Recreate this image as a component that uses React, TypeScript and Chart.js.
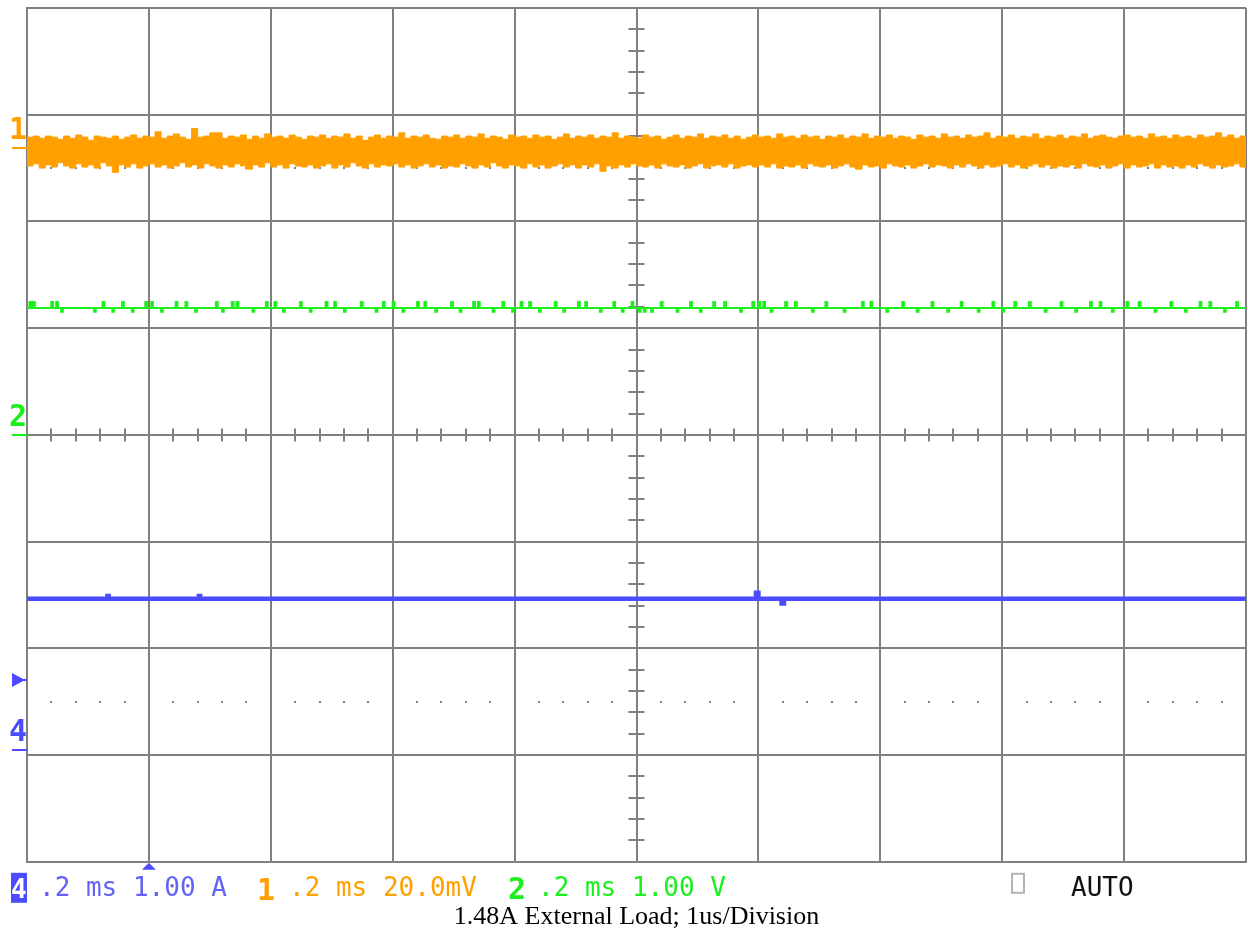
import React, { useEffect, useRef } from "react";
import { Chart, registerables } from "chart.js";

Chart.register(...registerables);

// ---- Axis layout (oscilloscope divisions) ----
const X_MIN = 0;
const X_MAX = 10;
const Y_MIN = -4;
const Y_MAX = 4;

// ---- Channel 1 (orange, 20.0 mV/div): noise band envelope, in divisions ----
const ch1Upper = [
  2.79, 2.80, 2.78, 2.80, 2.79, 2.77, 2.80, 2.78, 2.81, 2.79,
  2.76, 2.80, 2.79, 2.78, 2.80, 2.77, 2.79, 2.81, 2.78, 2.80,
  2.79, 2.84, 2.78, 2.80, 2.82, 2.79, 2.77, 2.87, 2.79, 2.80,
  2.83, 2.83, 2.78, 2.80, 2.79, 2.81, 2.77, 2.80, 2.78, 2.82,
  2.79, 2.80, 2.78, 2.81, 2.79, 2.77, 2.80, 2.79, 2.81, 2.78,
  2.80, 2.79, 2.82, 2.78, 2.80, 2.76, 2.79, 2.81, 2.78, 2.80,
  2.79, 2.83, 2.78, 2.80, 2.79, 2.81, 2.78, 2.77, 2.80, 2.79,
  2.81, 2.78, 2.80, 2.79, 2.82, 2.78, 2.80, 2.79, 2.77, 2.81,
  2.79, 2.80, 2.78, 2.81, 2.79, 2.80, 2.77, 2.79, 2.82, 2.78,
  2.80, 2.79, 2.81, 2.78, 2.80, 2.79, 2.83, 2.78, 2.80, 2.79,
  2.78, 2.81, 2.79, 2.80, 2.77, 2.79, 2.81, 2.78, 2.80, 2.79,
  2.82, 2.78, 2.80, 2.79, 2.81, 2.78, 2.80, 2.77, 2.79, 2.81,
  2.79, 2.80, 2.78, 2.82, 2.79, 2.80, 2.78, 2.81, 2.79, 2.80,
  2.77, 2.80, 2.79, 2.81, 2.78, 2.80, 2.79, 2.82, 2.78, 2.80,
  2.79, 2.81, 2.78, 2.80, 2.79, 2.77, 2.81, 2.79, 2.80, 2.78,
  2.82, 2.79, 2.80, 2.78, 2.81, 2.79, 2.80, 2.83, 2.78, 2.80,
  2.79, 2.81, 2.78, 2.80, 2.79, 2.82, 2.78, 2.80, 2.79, 2.81,
  2.78, 2.80, 2.79, 2.82, 2.78, 2.80, 2.81, 2.79, 2.78, 2.80,
  2.81, 2.79, 2.80, 2.78, 2.82, 2.79, 2.80, 2.78, 2.81, 2.79,
  2.80, 2.78, 2.81, 2.79, 2.80, 2.83, 2.79, 2.81, 2.78, 2.80,
  2.79,
];
const ch1Lower = [
  2.52, 2.54, 2.50, 2.53, 2.51, 2.55, 2.52, 2.50, 2.54, 2.51,
  2.53, 2.50, 2.55, 2.52, 2.46, 2.53, 2.51, 2.54, 2.50, 2.52,
  2.54, 2.51, 2.53, 2.50, 2.52, 2.55, 2.51, 2.53, 2.50, 2.54,
  2.52, 2.50, 2.53, 2.51, 2.54, 2.52, 2.49, 2.53, 2.51, 2.55,
  2.51, 2.53, 2.50, 2.54, 2.52, 2.51, 2.53, 2.50, 2.52, 2.54,
  2.50, 2.53, 2.51, 2.55, 2.52, 2.50, 2.54, 2.51, 2.53, 2.52,
  2.54, 2.51, 2.53, 2.50, 2.52, 2.54, 2.51, 2.53, 2.50, 2.52,
  2.51, 2.54, 2.52, 2.50, 2.53, 2.51, 2.55, 2.52, 2.50, 2.53,
  2.52, 2.50, 2.54, 2.51, 2.53, 2.50, 2.52, 2.54, 2.51, 2.53,
  2.50, 2.53, 2.51, 2.54, 2.47, 2.52, 2.50, 2.53, 2.51, 2.54,
  2.52, 2.51, 2.53, 2.50, 2.54, 2.52, 2.51, 2.53, 2.50, 2.52,
  2.54, 2.50, 2.52, 2.53, 2.51, 2.54, 2.50, 2.52, 2.53, 2.51,
  2.53, 2.51, 2.54, 2.50, 2.52, 2.51, 2.53, 2.50, 2.54, 2.52,
  2.51, 2.53, 2.50, 2.52, 2.54, 2.51, 2.49, 2.53, 2.51, 2.52,
  2.50, 2.54, 2.52, 2.51, 2.53, 2.50, 2.52, 2.54, 2.51, 2.53,
  2.52, 2.50, 2.53, 2.51, 2.54, 2.52, 2.50, 2.53, 2.51, 2.52,
  2.54, 2.51, 2.53, 2.50, 2.52, 2.54, 2.51, 2.53, 2.50, 2.52,
  2.51, 2.53, 2.50, 2.54, 2.52, 2.51, 2.53, 2.50, 2.52, 2.54,
  2.50, 2.53, 2.51, 2.52, 2.54, 2.50, 2.53, 2.51, 2.52, 2.50,
  2.53, 2.51, 2.54, 2.52, 2.50, 2.53, 2.51, 2.52, 2.54, 2.51,
  2.52,
];

// ---- Channel 2 (green, 1.00 V/div): baseline with short glitches, in divisions ----
const ch2Baseline = 1.19;
const ch2GlitchWidth = 0.014;
const ch2GlitchTime = [
  0.02, 0.05, 0.20, 0.24, 0.28, 0.55, 0.62, 0.70, 0.78, 0.86, 0.97, 1.02, 1.10, 1.22, 1.30, 1.38,
  1.55, 1.60, 1.68, 1.72, 1.85, 1.96, 2.03, 2.10, 2.24, 2.32, 2.45, 2.52, 2.60, 2.74, 2.86, 2.92,
  3.00, 3.08, 3.20, 3.26, 3.35, 3.48, 3.55, 3.66, 3.70, 3.82, 3.90, 3.98, 4.05, 4.12, 4.20, 4.33,
  4.40, 4.52, 4.58, 4.70, 4.81, 4.88, 4.96, 5.02, 5.06, 5.12, 5.20, 5.33, 5.44, 5.52, 5.63, 5.72,
  5.85, 5.95, 6.00, 6.04, 6.10, 6.22, 6.30, 6.44, 6.55, 6.70, 6.85, 6.92, 7.05, 7.18, 7.30, 7.42,
  7.55, 7.66, 7.80, 7.92, 8.00, 8.10, 8.22, 8.35, 8.48, 8.60, 8.72, 8.80, 8.90, 9.02, 9.12, 9.25,
  9.38, 9.50, 9.62, 9.70, 9.82, 9.92,
];
const ch2GlitchLevel = [
  1.245, 1.245, 1.245, 1.245, 1.155, 1.155, 1.245, 1.155, 1.245, 1.155, 1.245, 1.245, 1.155, 1.245, 1.245, 1.155,
  1.245, 1.155, 1.245, 1.245, 1.155, 1.245, 1.245, 1.155, 1.245, 1.155, 1.245, 1.245, 1.155, 1.245, 1.155, 1.245,
  1.245, 1.155, 1.245, 1.245, 1.155, 1.245, 1.155, 1.245, 1.245, 1.155, 1.245, 1.155, 1.245, 1.245, 1.155, 1.245,
  1.155, 1.245, 1.245, 1.155, 1.245, 1.155, 1.245, 1.155, 1.155, 1.155, 1.245, 1.155, 1.245, 1.155, 1.245, 1.245,
  1.155, 1.245, 1.245, 1.245, 1.155, 1.245, 1.245, 1.155, 1.245, 1.155, 1.245, 1.245, 1.155, 1.245, 1.155, 1.245,
  1.155, 1.245, 1.155, 1.245, 1.155, 1.245, 1.245, 1.155, 1.245, 1.155, 1.245, 1.245, 1.155, 1.245, 1.245, 1.155,
  1.245, 1.155, 1.245, 1.245, 1.155, 1.245,
];

// ---- Channel 4 (blue, 1.00 A/div): flat current with tiny glitches ----
const ch4Time = [0, 0.66, 0.66, 0.67, 0.67, 1.41, 1.41, 1.42, 1.42, 5.98, 5.98, 6.0, 6.0, 6.19, 6.19, 6.21, 6.21, 10];
const ch4Level = [-1.535, -1.535, -1.51, -1.51, -1.535, -1.535, -1.51, -1.51, -1.535, -1.535, -1.48, -1.48, -1.535, -1.535, -1.58, -1.58, -1.535, -1.535];

// ---- Channel reference markers (divisions) ----
const ch1RefLevel = 2.69;
const ch2RefLevel = 0;
const ch4RefLevel = -2.95;
const triggerLevel = -2.3;
const triggerPosition = 1.0;

// ---- Bottom readout texts ----
const ch4Readout = ".2 ms 1.00 A";
const ch1Readout = ".2 ms 20.0mV";
const ch2Readout = ".2 ms 1.00 V";
const triggerMode = "AUTO";
const captionText = "1.48A External Load; 1us/Division";

const ORANGE = "#FFA000";
const GREEN = "#1CF01C";
const BLUE = "#4B4BFF";
const BLUE_TEXT = "#6262F5";
const GRID = "#808080";

function sampled(values: number[]) {
  const n = values.length - 1;
  return values.map((v, i) => ({ x: X_MIN + ((X_MAX - X_MIN) * i) / n, y: v }));
}

function glitchTrace(base: number, times: number[], levels: number[], width: number) {
  const pts: { x: number; y: number }[] = [{ x: X_MIN, y: base }];
  times.forEach((t, i) => {
    pts.push({ x: t, y: base }, { x: t, y: levels[i] }, { x: t + width, y: levels[i] }, { x: t + width, y: base });
  });
  pts.push({ x: X_MAX, y: base });
  return pts;
}

const MONO = "'DejaVu Sans Mono', 'Liberation Mono', monospace";

const scopePlugin = {
  id: "scopeDecor",
  beforeDatasetsDraw(chart: any) {
    const { ctx, scales } = chart;
    const xs = scales.x;
    const ys = scales.y;
    const cy = ys.getPixelForValue(0);
    const cx = xs.getPixelForValue(5);
    ctx.save();
    ctx.strokeStyle = GRID;
    ctx.fillStyle = GRID;
    ctx.lineWidth = 2;
    for (let k = 1; k < 50; k++) {
      if (k % 5 === 0) continue;
      const px = Math.round(xs.getPixelForValue(k * 0.2));
      ctx.beginPath();
      ctx.moveTo(px, cy - 6.5);
      ctx.lineTo(px, cy + 6.5);
      ctx.stroke();
    }
    for (let k = 1; k < 40; k++) {
      if (k % 5 === 0) continue;
      const py = Math.round(ys.getPixelForValue(-4 + k * 0.2));
      ctx.beginPath();
      ctx.moveTo(cx - 8, py);
      ctx.lineTo(cx + 8, py);
      ctx.stroke();
    }
    for (const lv of [2.5, -2.5]) {
      const py = Math.round(ys.getPixelForValue(lv));
      for (let k = 1; k < 50; k++) {
        if (k % 5 === 0) continue;
        const px = Math.round(xs.getPixelForValue(k * 0.2));
        ctx.fillRect(px - 1, py - 1, 2, 2);
      }
    }
    ctx.restore();
  },
  afterDraw(chart: any) {
    const { ctx, scales } = chart;
    const xs = scales.x;
    const ys = scales.y;
    const left = chart.chartArea.left;
    const bottom = chart.chartArea.bottom;
    ctx.save();
    ctx.textAlign = "left";
    ctx.textBaseline = "alphabetic";

    const marker = (label: string, level: number, color: string) => {
      const py = Math.round(ys.getPixelForValue(level));
      ctx.fillStyle = color;
      ctx.font = `bold 30px ${MONO}`;
      ctx.fillText(label, 9, py - 9);
      ctx.fillRect(12, py - 1, left - 12, 2);
    };
    marker("1", ch1RefLevel, ORANGE);
    marker("2", ch2RefLevel, GREEN);
    marker("4", ch4RefLevel, BLUE);

    const ty = Math.round(ys.getPixelForValue(triggerLevel));
    ctx.fillStyle = BLUE;
    ctx.beginPath();
    ctx.moveTo(12, ty - 7);
    ctx.lineTo(25, ty);
    ctx.lineTo(12, ty + 7);
    ctx.closePath();
    ctx.fill();
    ctx.fillRect(20, ty - 1, left - 20, 2);

    const tx = xs.getPixelForValue(triggerPosition);
    ctx.beginPath();
    ctx.moveTo(tx - 7, bottom + 8);
    ctx.lineTo(tx, bottom + 1);
    ctx.lineTo(tx + 7, bottom + 8);
    ctx.closePath();
    ctx.fill();

    ctx.fillStyle = BLUE;
    ctx.fillRect(11, bottom + 11, 16, 30);
    ctx.fillStyle = "#FFFFFF";
    ctx.font = `bold 26px ${MONO}`;
    ctx.fillText("4", 11, bottom + 36);

    ctx.font = `26px ${MONO}`;
    ctx.fillStyle = BLUE_TEXT;
    ctx.fillText(ch4Readout, 39, bottom + 34);

    ctx.font = `bold 30px ${MONO}`;
    ctx.fillStyle = ORANGE;
    ctx.fillText("1", 257, bottom + 38);
    ctx.font = `26px ${MONO}`;
    ctx.fillText(ch1Readout, 289, bottom + 34);

    ctx.font = `bold 30px ${MONO}`;
    ctx.fillStyle = GREEN;
    ctx.fillText("2", 508, bottom + 37);
    ctx.font = `26px ${MONO}`;
    ctx.fillText(ch2Readout, 538, bottom + 34);

    ctx.strokeStyle = "#B4B4B4";
    ctx.lineWidth = 2;
    ctx.strokeRect(1012, bottom + 12, 12, 19);

    ctx.fillStyle = "#111111";
    ctx.font = `26px ${MONO}`;
    ctx.fillText(triggerMode, 1071, bottom + 34);
    ctx.restore();
  },
};

export default function App() {
  const canvasRef = useRef<HTMLCanvasElement | null>(null);

  useEffect(() => {
    if (!canvasRef.current) return;
    const chart = new Chart(canvasRef.current, {
      type: "line",
      data: {
        datasets: [
          {
            label: "CH1 upper",
            data: sampled(ch1Upper),
            borderColor: ORANGE,
            borderWidth: 1,
            pointRadius: 0,
            stepped: true,
            fill: false,
          },
          {
            label: "CH1 lower",
            data: sampled(ch1Lower),
            borderColor: ORANGE,
            backgroundColor: ORANGE,
            borderWidth: 1,
            pointRadius: 0,
            stepped: true,
            fill: "-1",
          },
          {
            label: "CH2",
            data: glitchTrace(ch2Baseline, ch2GlitchTime, ch2GlitchLevel, ch2GlitchWidth),
            borderColor: GREEN,
            borderWidth: 2,
            pointRadius: 0,
            fill: false,
          },
          {
            label: "CH4",
            data: ch4Time.map((t, i) => ({ x: t, y: ch4Level[i] })),
            borderColor: BLUE,
            borderWidth: 4.5,
            pointRadius: 0,
            fill: false,
          },
        ],
      },
      options: {
        responsive: false,
        animation: false,
        events: [],
        layout: { padding: { left: 27, top: 8, right: 2, bottom: 0 } },
        scales: {
          x: {
            type: "linear",
            min: X_MIN,
            max: X_MAX,
            ticks: { display: false, stepSize: 1 },
            grid: { color: GRID, lineWidth: 2, drawTicks: false },
            border: { color: GRID, width: 2 },
          },
          y: {
            type: "linear",
            min: Y_MIN,
            max: Y_MAX,
            ticks: { display: false, stepSize: 1 },
            grid: { color: GRID, lineWidth: 2, drawTicks: false },
            border: { color: GRID, width: 2 },
          },
        },
        plugins: {
          legend: { display: false },
          tooltip: { enabled: false },
          title: {
            display: true,
            text: captionText,
            position: "bottom",
            color: "#000000",
            font: { family: "'Liberation Serif', 'Times New Roman', serif", size: 26, weight: "normal", lineHeight: 1.2 },
            padding: { top: 40, bottom: 2 },
          },
        },
      },
      plugins: [scopePlugin],
    } as any);
    return () => chart.destroy();
  }, []);

  return (
    <div style={{ position: "absolute", left: 0, top: 0, width: 1248, height: 935, background: "#fff" }}>
      <canvas ref={canvasRef} width={1248} height={935} style={{ display: "block" }} />
    </div>
  );
}
